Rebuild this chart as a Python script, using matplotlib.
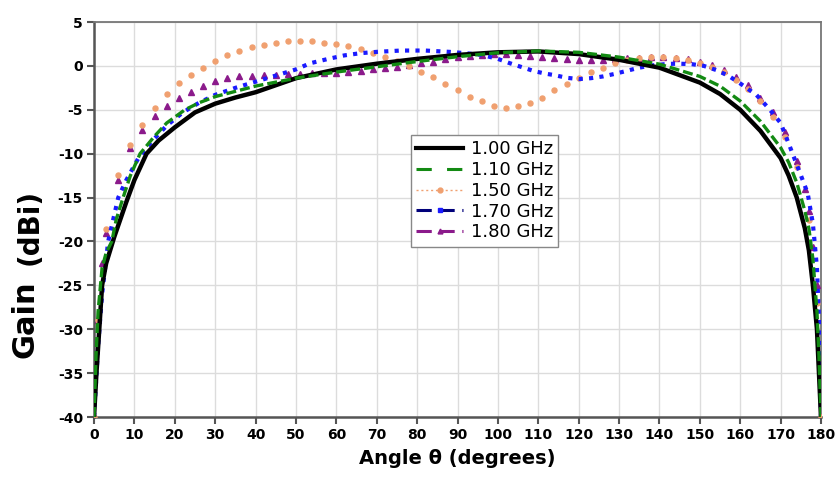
"""
Elevation-plane gain cuts of the antenna at five frequencies,
gain (dBi) against angle theta (degrees).  Saves out.png.
"""

import matplotlib
matplotlib.use("Agg")
import matplotlib.pyplot as plt
from matplotlib.lines import Line2D

plt.rcParams["font.family"] = ["DejaVu Sans"]
plt.rcParams["axes.unicode_minus"] = False

# ─────────────────────────────────────────────────────────────────────────────
# Measured cuts
# ─────────────────────────────────────────────────────────────────────────────

theta_100 = [0, 0.6, 1.3, 2, 3, 4, 5, 6.5, 8, 10, 13, 16, 20, 25, 30, 35, 40,
             50, 60, 70, 80, 90, 100, 110, 120, 130, 140, 150, 155, 160, 165,
             170, 172, 174, 176, 177, 178, 179, 180]
gain_100 = [-40, -35, -30, -25, -22.5, -21, -19.5, -17.5, -15.5, -13, -10,
            -8.5, -7, -5.3, -4.3, -3.6, -3.0, -1.4, -0.4, 0.25, 0.8, 1.25,
            1.55, 1.65, 1.35, 0.7, -0.2, -1.9, -3.2, -5, -7.4, -10.5, -12.5,
            -15, -18.5, -21, -25, -30, -40]

theta_110 = [0, 0.5, 1, 2, 3, 4.4, 5.5, 7.2, 9, 11.4, 15, 18, 22.5, 26, 30,
             35, 40, 50, 60, 70, 80, 90, 100, 110, 120, 130, 140, 150, 155,
             160, 165, 170, 172, 174, 176, 177, 178, 179, 179.5, 180]
gain_110 = [-40, -33, -28, -23, -21.3, -20, -17.5, -15, -12.5, -10, -8, -6.5,
            -5, -4.2, -3.5, -2.9, -2.3, -1.4, -0.7, -0.1, 0.5, 1.05, 1.5, 1.7,
            1.55, 1.0, 0.2, -1.2, -2.3, -4, -6.3, -9.3, -11, -13.3, -16.5,
            -18.5, -22, -28, -33, -40]

theta_150 = [0, 1, 3, 6, 9, 12, 15, 18, 21, 24, 27, 30, 33, 36, 39, 42, 45,
             48, 51, 54, 57, 60, 63, 66, 69, 72, 75, 78, 81, 84, 87, 90, 93,
             96, 99, 102, 105, 108, 111, 114, 117, 120, 123, 126, 129, 132,
             135, 138, 141, 144, 147, 150, 153, 156, 159, 162, 165, 168, 171,
             174, 177, 179, 180]
gain_150 = [-40, -29, -18.6, -12.4, -9.0, -6.7, -4.8, -3.2, -2.0, -1.0, -0.2,
            0.6, 1.2, 1.7, 2.1, 2.4, 2.6, 2.8, 2.85, 2.8, 2.65, 2.5, 2.3, 1.9,
            1.5, 1.05, 0.55, -0.05, -0.65, -1.3, -2.05, -2.7, -3.5, -4.05,
            -4.55, -4.75, -4.6, -4.2, -3.6, -2.8, -2.1, -1.4, -0.7, -0.2, 0.3,
            0.7, 0.9, 1.0, 1.05, 0.95, 0.7, 0.35, -0.1, -0.75, -1.6, -2.6,
            -4.0, -5.8, -8.1, -11.5, -17.5, -27, -40]

theta_170 = [0, 0.5, 1, 2, 3.5, 6, 8, 11, 14.3, 18, 22, 26, 30, 35, 40, 45,
             50, 53.5, 58, 62, 66, 70, 76, 82, 88, 92, 96, 100, 103, 106, 109,
             112, 114, 117, 120, 123, 126, 129, 132, 135, 138, 142, 145, 148,
             151, 154, 157, 160, 164, 167, 170, 172.3, 174.8, 176.7, 178, 179,
             179.6, 180]
gain_170 = [-40, -36, -32, -26, -20, -15, -13, -10.5, -8.6, -6.8, -5.3, -4.2,
            -3.3, -2.5, -1.8, -1.1, -0.4, 0.3, 0.8, 1.2, 1.45, 1.6, 1.75, 1.75,
            1.6, 1.45, 1.25, 0.8, 0.3, -0.15, -0.6, -0.9, -1.05, -1.35, -1.5,
            -1.4, -1.2, -0.9, -0.55, -0.2, 0.05, 0.23, 0.25, 0.2, 0.0, -0.46,
            -1.1, -2, -3.3, -4.8, -6.5, -9.2, -12.2, -14.5, -18, -23, -30, -40]

theta_180 = [0, 1, 2, 3, 6, 9, 12, 15, 18, 21, 24, 27, 30, 33, 36, 39, 42, 45,
             48, 51, 54, 57, 60, 63, 66, 69, 72, 75, 78, 81, 84, 87, 90, 93,
             96, 99, 102, 105, 108, 111, 114, 117, 120, 123, 126, 129, 132,
             135, 138, 141, 144, 147, 150, 153, 156, 159, 162, 165, 168, 171,
             174, 176, 177, 178, 179, 180]
gain_180 = [-40, -29, -22.5, -19, -13, -9.4, -7.3, -5.7, -4.6, -3.6, -3.0,
            -2.3, -1.7, -1.4, -1.15, -1.1, -1.05, -1.0, -0.95, -0.9, -0.85,
            -0.85, -0.85, -0.7, -0.55, -0.4, -0.25, -0.1, 0.1, 0.3, 0.5, 0.75,
            1.0, 1.15, 1.25, 1.3, 1.33, 1.25, 1.15, 1.0, 0.87, 0.78, 0.72,
            0.68, 0.72, 0.8, 0.88, 0.95, 1.0, 1.0, 0.95, 0.8, 0.5, 0.05, -0.5,
            -1.3, -2.2, -3.6, -5.2, -7.5, -10.8, -14, -16.5, -20.6, -25, -40]

freq_labels = ["1.00 GHz", "1.10 GHz", "1.50 GHz", "1.70 GHz", "1.80 GHz"]

x_ticks = list(range(0, 181, 10))
y_ticks = list(range(-40, 6, 5))

BLACK  = "#000000"
GREEN  = "#138a13"
ORANGE = "#f0a070"
BLUE   = "#1a1aff"
NAVY   = "#00007a"
PURPLE = "#8b1a8b"
AXIS   = "#555555"


# ─────────────────────────────────────────────────────────────────────────────
# Plot
# ─────────────────────────────────────────────────────────────────────────────

def plot_gain() -> None:
    fig = plt.figure(figsize=(8.38, 4.84), dpi=100)
    ax = fig.add_axes([0.1122, 0.1384, 0.8675, 0.8161])

    ax.plot(theta_180, gain_180, ls="none", marker="^", ms=4.3,
            color=PURPLE, zorder=3)
    ax.plot(theta_150, gain_150, ls="none", marker="o", ms=3.6,
            color=ORANGE, zorder=3)
    ax.plot(theta_170, gain_170, ls=(0, (1, 1.5)), lw=3.0, color=BLUE,
            zorder=4)
    ax.plot(theta_100, gain_100, ls="-", lw=3.2, color=BLACK, zorder=5)
    ax.plot(theta_110, gain_110, ls=(0, (3, 1.2)), lw=2.4, color=GREEN,
            zorder=6)

    ax.set_xlim(0, 180)
    ax.set_ylim(-40, 5)
    ax.set_xticks(x_ticks)
    ax.set_yticks(y_ticks)
    ax.grid(True, color="#dcdcdc", lw=1.0)
    ax.set_axisbelow(True)

    for side in ("left", "bottom"):
        ax.spines[side].set_color(AXIS)
        ax.spines[side].set_linewidth(1.8)
    for side in ("top", "right"):
        ax.spines[side].set_color("#777777")
        ax.spines[side].set_linewidth(1.3)

    ax.tick_params(direction="out", length=5, width=1.5, color=AXIS,
                   labelsize=10, pad=3)
    for lbl in ax.get_xticklabels() + ax.get_yticklabels():
        lbl.set_fontweight("bold")

    ax.set_xlabel("Angle \u03b8 (degrees)", fontsize=14, fontweight="bold",
                  labelpad=5)
    fig.text(0.030, 0.341, "Gain", rotation=90, fontsize=22,
             fontweight="bold", ha="center", va="center")
    fig.text(0.035, 0.532, "(dBi)", rotation=90, fontsize=20,
             fontweight="bold", ha="center", va="center")

    # legend keys drawn as the line styles of the original key
    handles = [
        Line2D([], [], color=BLACK, lw=3.0),
        Line2D([], [], color=GREEN, lw=2.2, ls=(0, (5, 5))),
        Line2D([], [], color=ORANGE, lw=1.0, ls=(0, (1.5, 2)), marker="o",
               ms=3.5),
        Line2D([], [], color=NAVY, lw=2.2, ls=(0, (5, 2.5)), marker="s",
               ms=2.8, mfc=BLUE, mec=BLUE),
        Line2D([], [], color=PURPLE, lw=2.2, ls=(0, (5, 2.5)), marker="^",
               ms=3.5),
    ]
    leg = ax.legend(handles, freq_labels, loc="upper left",
                    bbox_to_anchor=(0.436, 0.714), fontsize=13, numpoints=1,
                    handlelength=2.6, handletextpad=0.4, labelspacing=0.15,
                    borderpad=0.3, borderaxespad=0, fancybox=False,
                    framealpha=1, edgecolor="#888888")
    leg.get_frame().set_linewidth(1.0)

    fig.savefig("out.png", dpi=100)
    plt.close(fig)


if __name__ == "__main__":
    plot_gain()
